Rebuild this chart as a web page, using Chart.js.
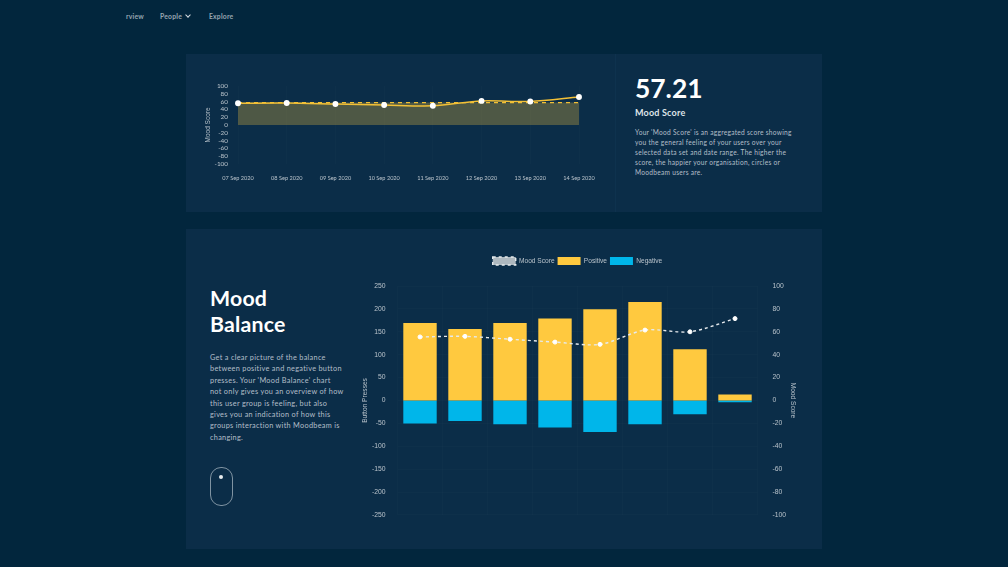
<!DOCTYPE html>
<html>
<head>
<meta charset="utf-8">
<script src="https://cdn.jsdelivr.net/npm/chart.js@4"></script>
<style>
html, body { margin: 0; padding: 0; width: 1008px; height: 567px; overflow: hidden; background: #02263d; font-family: Lato, sans-serif; }
.abs { position: absolute; white-space: nowrap; }
.card { position: absolute; left: 186px; width: 636px; background: #0b2d48; }
.nav { top: 11px; font-size: 6.8px; font-weight: 700; line-height: 10px; color: #97a5b1; letter-spacing: .2px; }
.body { color: #b4bfc8; letter-spacing: .27px; }
canvas { position: absolute; }
</style>
</head>
<body>
<div class="abs nav" style="left:126px">rview</div>
<div class="abs nav" style="left:160px">People</div>
<div class="abs" style="left:186px;top:13px;width:3px;height:3px;border:solid #d5dbe0;border-width:0 1px 1px 0;transform:rotate(45deg)"></div>
<div class="abs nav" style="left:209px">Explore</div>

<div class="card" style="top:54px;height:158px"></div>
<div class="abs" style="left:615px;top:54px;width:1px;height:158px;background:#0e324e"></div>
<div class="card" style="top:229px;height:320px"></div>

<div class="abs" style="left:635px;top:72px;font-size:26.4px;font-weight:700;line-height:32px;color:#fff">57.21</div>
<div class="abs" style="left:635px;top:107px;font-size:9px;font-weight:700;line-height:12px;color:#dfe4e8;letter-spacing:.2px">Mood Score</div>
<div class="abs body" style="left:635px;top:126.5px;font-size:6.6px;line-height:10px">Your 'Mood Score' is an aggregated score showing<br>you the general feeling of your users over your<br>selected data set and date range. The higher the<br>score, the happier your organisation, circles or<br>Moodbeam users are.</div>

<div class="abs" style="left:210px;top:285px;font-size:21.3px;font-weight:700;line-height:26px;color:#fff;letter-spacing:.2px">Mood<br>Balance</div>
<div class="abs body" style="left:210px;top:352px;font-size:7.3px;line-height:11.4px;letter-spacing:.3px">Get a clear picture of the balance<br>between positive and negative button<br>presses. Your 'Mood Balance' chart<br>not only gives you an overview of how<br>this user group is feeling, but also<br>gives you an indication of how this<br>groups interaction with Moodbeam is<br>changing.</div>
<div class="abs" style="left:210px;top:467px;width:20.5px;height:36.5px;border:.6px solid #7f93a2;border-radius:11px"></div>
<div class="abs" style="left:218.5px;top:474.5px;width:4px;height:4px;border-radius:50%;background:#e8ecef"></div>

<div style="position:absolute;left:196px;top:80px;width:410px;height:110px"><canvas id="scoreChart"></canvas></div>
<div style="position:absolute;left:355px;top:254px;width:445px;height:277px"><canvas id="balanceChart"></canvas></div>

<script>
const dates = ['07 Sep 2020', '08 Sep 2020', '09 Sep 2020', '10 Sep 2020', '11 Sep 2020', '12 Sep 2020', '13 Sep 2020', '14 Sep 2020'];
const moodScore = [55.5, 56, 53.5, 51, 49, 61.5, 60, 71.5];
const moodAverage = [57.21, 57.21, 57.21, 57.21, 57.21, 57.21, 57.21, 57.21];
const positive = [168, 155, 168, 178, 198, 214, 111, 12];
const negative = [-49, -44, -51, -58, -68, -51, -29, -3];

const faintGrid = 'rgba(255,255,255,0.015)';
const tickColor = '#b9c3cb';

Chart.defaults.animation = false;
Chart.defaults.responsive = true;
Chart.defaults.maintainAspectRatio = false;

new Chart(document.getElementById('scoreChart'), {
    type: 'line',
    data: {
        labels: dates,
        datasets: [{
            label: 'Mood Score',
            data: moodScore,
            borderColor: '#f2c037',
            borderWidth: 1.5,
            pointBackgroundColor: '#fff',
            pointBorderColor: '#fff',
            pointRadius: 2.2,
            tension: 0.3,
            fill: false
        }, {
            label: 'Average',
            data: moodAverage,
            borderColor: '#f2c037',
            backgroundColor: 'rgba(255,200,60,0.28)',
            borderWidth: 1.3,
            borderDash: [4, 4],
            pointRadius: 0,
            fill: 'origin'
        }]
    },
    options: {
        layout: { padding: { top: 0, right: 27, bottom: 0, left: 0 } },
        plugins: { legend: { display: false }, tooltip: { enabled: false } },
        scales: {
            x: {
                offset: false,
                grid: { color: faintGrid, drawTicks: false },
                border: { display: false },
                ticks: { color: tickColor, font: { family: 'Lato', size: 5.6 }, maxRotation: 0, autoSkip: false, padding: 11 },
                afterFit: function(scale) { scale.height = 26; }
            },
            y: {
                min: -100,
                max: 100,
                grid: { display: false },
                border: { display: false },
                ticks: { stepSize: 20, autoSkip: false, color: tickColor, font: { family: 'Lato', size: 6.4 }, padding: 2 },
                title: { display: true, text: 'Mood Score', color: tickColor, font: { family: 'Liberation Sans', size: 6.5 }, padding: { top: 8, bottom: 0 } },
                afterFit: function(scale) { scale.width = 42; }
            }
        }
    }
});

// keeps a gap under the legend without spreading its items apart
const legendGap = {
    id: 'legendGap',
    beforeInit: function(chart) {
        const fit = chart.legend.fit;
        chart.legend.fit = function() {
            fit.call(this);
            this.height = 32;
        };
    }
};

new Chart(document.getElementById('balanceChart'), {
    type: 'bar',
    plugins: [legendGap],
    data: {
        labels: dates,
        datasets: [{
            type: 'line',
            label: 'Mood Score',
            data: moodScore,
            yAxisID: 'y1',
            borderColor: '#e6eaed',
            backgroundColor: '#aeb8bf',
            borderWidth: 1.4,
            borderDash: [3, 3],
            pointBackgroundColor: '#fff',
            pointBorderColor: '#fff',
            pointBorderWidth: 1,
            pointRadius: 2,
            tension: 0.3,
            fill: false
        }, {
            label: 'Positive',
            data: positive,
            backgroundColor: '#ffc93f',
            inflateAmount: 0.5
        }, {
            label: 'Negative',
            data: negative,
            backgroundColor: '#00b6ea',
            inflateAmount: 0.5
        }]
    },
    options: {
        layout: { padding: { top: 0, right: 0, bottom: 16, left: 0 } },
        plugins: {
            tooltip: { enabled: false },
            legend: {
                labels: { color: tickColor, boxWidth: 23, boxHeight: 8, padding: 3, font: { family: 'Liberation Sans', size: 6.6 } }
            }
        },
        scales: {
            x: {
                stacked: true,
                grid: { color: faintGrid, drawTicks: false },
                border: { display: false },
                ticks: { display: false }
            },
            y: {
                stacked: true,
                min: -250,
                max: 250,
                grid: { color: faintGrid, drawTicks: false },
                border: { display: false },
                ticks: { stepSize: 50, color: tickColor, font: { family: 'Liberation Sans', size: 6.8 }, padding: 12 },
                title: { display: true, text: 'Button Presses', color: tickColor, font: { family: 'Liberation Sans', size: 6.6 }, padding: { top: 6, bottom: 0 } },
                afterFit: function(scale) { scale.width = 42.5; }
            },
            y1: {
                position: 'right',
                min: -100,
                max: 100,
                grid: { display: false },
                border: { display: false },
                ticks: { stepSize: 20, color: tickColor, font: { family: 'Liberation Sans', size: 6.8 }, padding: 7 },
                title: { display: true, text: 'Mood Score', color: tickColor, font: { family: 'Liberation Sans', size: 6.6 }, padding: { top: 3, bottom: 0 } },
                afterFit: function(scale) { scale.width = 42.5; }
            }
        }
    }
});
</script>
</body>
</html>
